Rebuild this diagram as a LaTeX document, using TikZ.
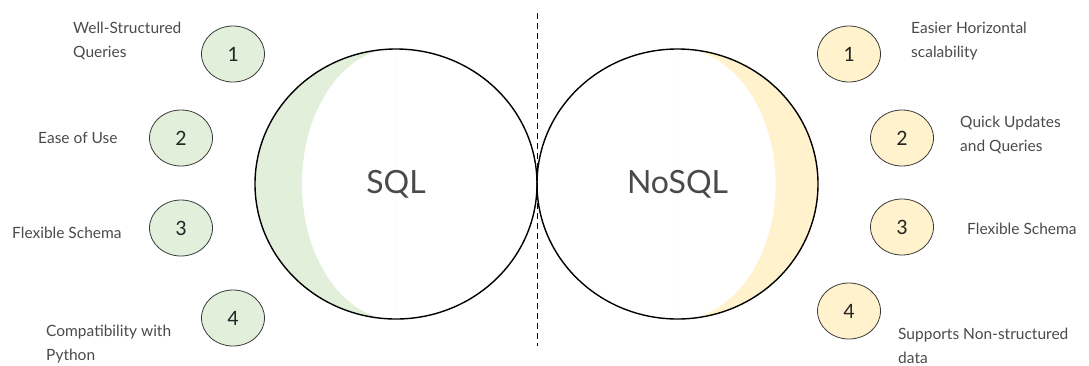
\documentclass[tikz,border=0pt]{standalone}
\usepackage{fontspec}
\setmainfont{Lato}
\newfontfamily\digitfont{Carlito}
\usetikzlibrary{shapes.geometric}
\definecolor{sqlgreen}{HTML}{E2EFDA}
\definecolor{nosqlgold}{HTML}{FFF2CC}
\definecolor{labelgray}{HTML}{4A4A4A}
\definecolor{rimgray}{HTML}{3A3A3A}
\tikzset{
  bigcircle/.style={draw=black, line width=1.4pt, ellipse, minimum width=282pt,
    minimum height=270pt, inner sep=0pt, text=labelgray, font=\fontsize{32}{36}\selectfont},
  badge/.style={draw=rimgray, line width=0.8pt, ellipse, minimum width=63pt,
    minimum height=56pt, inner sep=0pt, text=black!85, font=\digitfont\fontsize{22}{24}\selectfont},
  sqlbadge/.style={badge, fill=sqlgreen},
  nosqlbadge/.style={badge, fill=nosqlgold},
  point/.style={anchor=west, align=left, inner sep=0pt, text=labelgray,
    font=\fontsize{15.5}{24}\selectfont},
  divider/.style={draw=black, line width=0.9pt, dash pattern=on 6pt off 4pt}
}
\begin{document}
\begin{tikzpicture}[x=1pt, y=-1pt]
  \useasboundingbox (0,0) rectangle (1089,365);

  % shaded crescents inside the two main circles
  \begin{scope}
    \clip (255,0) rectangle (396,365);
    \fill[sqlgreen] (396,184) ellipse [x radius=141, y radius=135];
    \fill[white] (396,184) ellipse [x radius=94, y radius=135.5];
  \end{scope}
  \begin{scope}
    \clip (677.5,0) rectangle (820,365);
    \fill[nosqlgold] (677.5,184) ellipse [x radius=140.5, y radius=135];
    \fill[white] (677.5,184) ellipse [x radius=98, y radius=135.5];
  \end{scope}

  % main circles
  \node[bigcircle] (sql) at (396,184) {SQL};
  \node[bigcircle, minimum width=281pt] (nosql) at (677.5,184) {NoSQL};

  % dividing line
  \coordinate (divtop) at (537,13);
  \coordinate (divbot) at (537,346);
  \draw[divider] (divtop) -- (divbot);

  % SQL advantages
  \node[sqlbadge] (s1) at (233,54) {1};
  \node[sqlbadge] (s2) at (181,138) {2};
  \node[sqlbadge] (s3) at (181,228) {3};
  \node[sqlbadge] (s4) at (233,318) {4};
  \node[point] (ls1) at (73,41) {Well-Structured\\Queries};
  \node[point] (ls2) at (38,138) {Ease of Use};
  \node[point] (ls3) at (12,233) {Flexible Schema};
  \node[point] (ls4) at (46,344) {Compatibility with\\Python};

  % NoSQL advantages
  \node[nosqlbadge] (n1) at (849,54) {1};
  \node[nosqlbadge] (n2) at (902,138) {2};
  \node[nosqlbadge] (n3) at (902,227) {3};
  \node[nosqlbadge] (n4) at (849,311) {4};
  \node[point] (ln1) at (911,41) {Easier Horizontal\\scalability};
  \node[point] (ln2) at (960,135) {Quick Updates\\and Queries};
  \node[point] (ln3) at (967,229) {Flexible Schema};
  \node[point] (ln4) at (898,346) {Supports Non-structured\\data};
\end{tikzpicture}
\end{document}
